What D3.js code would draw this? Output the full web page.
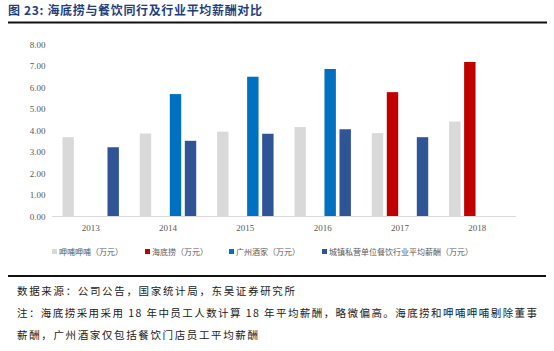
<!DOCTYPE html>
<html>
<head>
<meta charset="utf-8">
<script src="https://cdn.jsdelivr.net/npm/d3@7"></script>
<style>
  body { margin: 0; background: #fff; }
  svg { display: block; }
</style>
</head>
<body>
<svg id="chart" width="554" height="351"></svg>
<script>
const years = ["2013", "2014", "2015", "2016", "2017", "2018"];
const seriesNames = ["呷哺呷哺（万元）", "海底捞（万元）", "广州酒家（万元）", "城镇私营单位餐饮行业平均薪酬（万元）"];
const xiabu = [3.70, 3.87, 3.96, 4.17, 3.89, 4.43];
const haidilao = [null, null, null, null, 5.80, 7.21];
const guangzhou = [null, 5.71, 6.52, 6.88, null, null];
const industry = [3.23, 3.53, 3.86, 4.07, 3.70, null];
const yTicks = [0, 1, 2, 3, 4, 5, 6, 7, 8];
const colors = ["#d9d9d9", "#c00000", "#0070c0", "#2f5597"];

const series = [xiabu, haidilao, guangzhou, industry];
const svg = d3.select("#chart");
const cjk = "'Noto Sans CJK SC', sans-serif";
const serif = "'Liberation Serif', 'Times New Roman', serif";

// title + rules
svg.append("text")
  .attr("x", 8).attr("y", 15)
  .attr("font-family", cjk).attr("font-weight", "bold")
  .attr("font-size", 12).attr("fill", "#1f3f7f")
  .attr("textLength", 254).attr("lengthAdjust", "spacing")
  .text("图 23:  海底捞与餐饮同行及行业平均薪酬对比");
svg.append("line").attr("x1", 8).attr("x2", 547).attr("y1", 22.5).attr("y2", 22.5)
  .attr("stroke", "#111").attr("stroke-width", 2);
svg.append("line").attr("x1", 8).attr("x2", 546).attr("y1", 276).attr("y2", 276)
  .attr("stroke", "#111").attr("stroke-width", 2);

const x0 = d3.scaleBand().domain(years).range([52, 516]).paddingInner(0.27).paddingOuter(0.135);
const x1 = d3.scaleBand().domain(d3.range(4)).range([0, x0.bandwidth()]).paddingInner(0.24);
const y = d3.scaleLinear().domain([0, 8]).range([216.5, 45]);

// y axis labels
svg.append("g").selectAll("text").data(yTicks).join("text")
  .attr("x", 45.5).attr("y", d => y(d) + 3)
  .attr("text-anchor", "end")
  .attr("font-family", serif).attr("font-size", 9).attr("fill", "#595959")
  .text(d => d.toFixed(2));

// bars
const g = svg.append("g");
series.forEach((vals, i) => {
  g.selectAll(".s" + i).data(years.map((yr, j) => ({ yr, v: vals[j] })).filter(d => d.v != null))
    .join("rect")
    .attr("x", d => x0(d.yr) + x1(i))
    .attr("y", d => y(d.v))
    .attr("width", x1.bandwidth())
    .attr("height", d => y(0) - y(d.v))
    .attr("fill", colors[i]);
});

// x axis
svg.append("line").attr("x1", 52).attr("x2", 516).attr("y1", 216.5).attr("y2", 216.5)
  .attr("stroke", "#d9d9d9").attr("stroke-width", 1);
svg.append("g").selectAll("text").data(years).join("text")
  .attr("x", d => x0(d) + x0.bandwidth() / 2)
  .attr("y", 231)
  .attr("text-anchor", "middle")
  .attr("font-family", serif).attr("font-size", 9).attr("fill", "#595959")
  .text(d => d);

// legend
const legendX = [52, 145, 229, 322];
const lg = svg.append("g");
seriesNames.forEach((name, i) => {
  lg.append("rect").attr("x", legendX[i]).attr("y", 249).attr("width", 5).attr("height", 5).attr("fill", colors[i]);
  lg.append("text").attr("x", legendX[i] + 7).attr("y", 255)
    .attr("font-family", cjk).attr("font-size", 8).attr("fill", "#595959")
    .text(name);
});

// footer notes
const notes = [
  "数据来源：公司公告，国家统计局，东吴证券研究所",
  "注：海底捞采用采用 18 年中员工人数计算 18 年平均薪酬，略微偏高。海底捞和呷哺呷哺剔除董事",
  "薪酬，广州酒家仅包括餐饮门店员工平均薪酬"
];
const noteW = [278, 520, 241];
svg.append("g").selectAll("text").data(notes).join("text")
  .attr("x", 17).attr("y", (d, i) => [295, 317, 339][i])
  .attr("font-family", cjk).attr("font-size", 10.5).attr("fill", "#222")
  .attr("textLength", (d, i) => noteW[i]).attr("lengthAdjust", "spacing")
  .text(d => d);
</script>
</body>
</html>
